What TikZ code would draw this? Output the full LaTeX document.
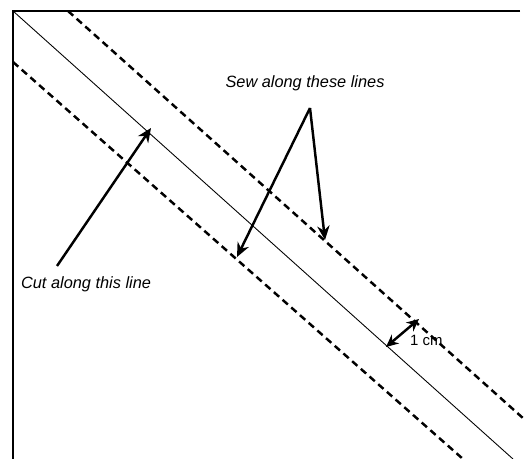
\documentclass[tikz,border=0pt]{standalone}
\usepackage{fontspec}
\setmainfont{Liberation Sans}
\usetikzlibrary{arrows.meta}

\begin{document}
\begin{tikzpicture}[x=0.02cm, y=-0.02cm,
    etiqueta/.style={font=\itshape\fontsize{9.3}{11}\selectfont, inner sep=1pt},
    fletxa/.style={line width=1.4pt, -{Stealth[length=8pt,width=7pt]}},
    cosir/.style={line width=1.4pt, dash pattern=on 4pt off 2.6pt}]
    \useasboundingbox (0,0) rectangle (524,459);

    % Marc de la tela
    \draw[line width=1pt] (520,11) -- (13,11) -- (13,459);

    % Línia de tall
    \draw[line width=0.5pt] (13,11) -- (513,459);

    % Línies de cosir (a 1 cm a cada costat)
    \draw[cosir] (68,11) -- (524,419);
    \draw[cosir] (13,62) -- (463,459);

    % Etiquetes
    \node[etiqueta] (cosit) at (305,83) {Sew along these lines};
    \node[etiqueta, anchor=west] (tall) at (19,284) {Cut along this line};
    \node[font=\fontsize{8.5}{10}\selectfont, inner sep=1pt, anchor=west] (cm) at (408,340) {1 cm};

    % Punts on toquen les fletxes
    \coordinate (tallinici) at (57,266);
    \coordinate (tallpunt) at (151,128);
    \coordinate (cim) at (310,108);
    \coordinate (cosirbaix) at (237,257);
    \coordinate (cosirdalt) at (325,240);
    \coordinate (mesuraA) at (386,347);
    \coordinate (mesuraB) at (419,319);

    % Fletxes
    \draw[fletxa] (tallinici) -- (tallpunt);
    \draw[fletxa] (cim) -- (cosirbaix);
    \draw[fletxa] (cim) -- (cosirdalt);
    \draw[line width=1.4pt, {Stealth[length=7pt,width=6.5pt]}-{Stealth[length=7pt,width=6.5pt]}] (mesuraA) -- (mesuraB);
\end{tikzpicture}
\end{document}
